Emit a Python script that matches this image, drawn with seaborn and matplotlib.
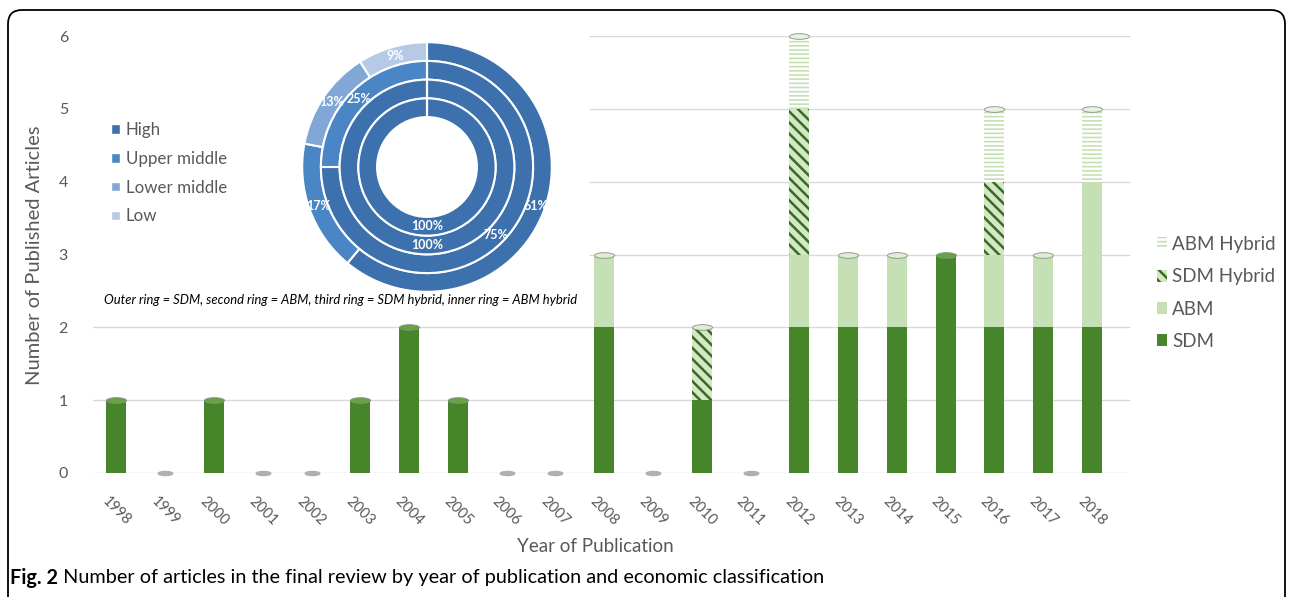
import numpy as np
import pandas as pd
import matplotlib
matplotlib.use("Agg")
import matplotlib.pyplot as plt
import seaborn as sns
from matplotlib.patches import Patch, FancyBboxPatch
from matplotlib.path import Path

# ─── data ─────────────────────────────────────────────────────────────────────
years = ["1998", "1999", "2000", "2001", "2002", "2003", "2004", "2005", "2006", "2007",
         "2008", "2009", "2010", "2011", "2012", "2013", "2014", "2015", "2016", "2017", "2018"]
sdm        = [1, 0, 1, 0, 0, 1, 2, 1, 0, 0, 2, 0, 1, 0, 2, 2, 2, 3, 2, 2, 2]
abm        = [0, 0, 0, 0, 0, 0, 0, 0, 0, 0, 1, 0, 0, 0, 1, 1, 1, 0, 1, 1, 2]
sdm_hybrid = [0, 0, 0, 0, 0, 0, 0, 0, 0, 0, 0, 0, 1, 0, 2, 0, 0, 0, 1, 0, 0]
abm_hybrid = [0, 0, 0, 0, 0, 0, 0, 0, 0, 0, 0, 0, 0, 0, 1, 0, 0, 0, 1, 0, 1]

income_groups = ["High", "Upper middle", "Lower middle", "Low"]
ring_sdm        = [61, 17, 13, 9]     # outer ring
ring_abm        = [75, 25, 0, 0]      # second ring
ring_sdm_hybrid = [100, 0, 0, 0]      # third ring
ring_abm_hybrid = [100, 0, 0, 0]      # inner ring

# ─── style ────────────────────────────────────────────────────────────────────
sns.set_style("white")
plt.rcParams["font.family"] = ["Lato", "DejaVu Sans"]
plt.rcParams["hatch.linewidth"] = 1.8

GREY = "#595959"
SERIES_STYLE = {
    "SDM":        dict(color="#46852a", hatch=None, edgecolor="#46852a"),
    "ABM":        dict(color="#c5e0b4", hatch=None, edgecolor="#c5e0b4"),
    "SDM Hybrid": dict(color="#d3e8c6", hatch="\\\\\\", edgecolor="#3a6a20"),
    "ABM Hybrid": dict(color="#c5e0b4", hatch="----", edgecolor="white"),
}
CAP_COLOR = {"SDM": "#65a43f", "ABM": "#dcefd0", "SDM Hybrid": "#dcefd0", "ABM Hybrid": "#e6f3de"}
RING_COLORS = ["#3d71ad", "#4a86c6", "#80a7d6", "#b6cae6"]

W, H = 1290, 597
fig = plt.figure(figsize=(W / 100, H / 100), dpi=100)
fig.patch.set_facecolor("white")

# ─── main stacked bar chart ───────────────────────────────────────────────────
ax = fig.add_axes([93 / W, 1 - 473 / H, (1130 - 93) / W, (473 - 36) / H])

df = pd.DataFrame({"year": years, "SDM": sdm, "ABM": abm,
                   "SDM Hybrid": sdm_hybrid, "ABM Hybrid": abm_hybrid})
stack_order = ["SDM", "ABM", "SDM Hybrid", "ABM Hybrid"]
tops = df[stack_order].cumsum(axis=1)

# draw back to front: tallest cumulative layer first
for name in reversed(stack_order):
    st = SERIES_STYLE[name]
    sns.barplot(x=df["year"], y=tops[name], ax=ax, color=st["color"], saturation=1,
                width=0.41, hatch=st["hatch"], edgecolor=st["edgecolor"], linewidth=0,
                errorbar=None, zorder=2)

# cylinder caps on top of each stack, flat discs for empty years
theta = np.linspace(0, 2 * np.pi, 60)
ellipse = Path(np.column_stack([np.cos(theta), 0.28 * np.sin(theta)]), closed=True)
total = tops["ABM Hybrid"]
top_series = df[stack_order].apply(lambda r: [c for c in stack_order if r[c] > 0][-1]
                                   if r.sum() > 0 else None, axis=1)
for i, (t, s) in enumerate(zip(total, top_series)):
    if s is None:
        ax.scatter(i, 0, marker=ellipse, s=110, color="#b0b0b0", zorder=3, clip_on=False)
    else:
        ax.scatter(i, t, marker=ellipse, s=210, color=CAP_COLOR[s], edgecolor="#8c8c8c",
                   linewidth=0.6, zorder=3, clip_on=False)

ax.set_xlim(-0.48, 20.78)
ax.set_ylim(0, 6)
ax.set_yticks(range(0, 7))
ax.yaxis.grid(True, color="#d9d9d9", linewidth=1)
ax.set_axisbelow(True)
sns.despine(ax=ax, left=True, bottom=True)
ax.set_xlabel("")
ax.set_ylabel("")
ax.tick_params(axis="y", length=0, pad=18, labelsize=11.5, labelcolor=GREY)
ax.tick_params(axis="x", length=0, pad=15, labelsize=10.5, labelcolor=GREY)
for lbl in ax.get_xticklabels():
    lbl.set_rotation(-45)
    lbl.set_ha("center")
    lbl.set_va("top")

fig.text(35 / W, 1 - 255 / H, "Number of Published Articles", rotation=90,
         ha="center", va="center", fontsize=14.5, color=GREY)
fig.text(595 / W, 1 - 547 / H, "Year of Publication", ha="center", va="center",
         fontsize=13.5, color=GREY)

legend_handles = [Patch(facecolor=SERIES_STYLE[n]["color"], hatch=SERIES_STYLE[n]["hatch"],
                        edgecolor=SERIES_STYLE[n]["edgecolor"], linewidth=0, label=n)
                  for n in reversed(stack_order)]
fig.legend(handles=legend_handles, loc="upper left", bbox_to_anchor=(1140 / W, 1 - 219 / H),
           frameon=False, fontsize=13.5, labelcolor=GREY, handlelength=0.55,
           handleheight=0.6, handletextpad=0.25, labelspacing=0.82)

# ─── inset donut (economic classification) ───────────────────────────────────
ax_bg = fig.add_axes([93 / W, 1 - 318 / H, (590 - 93) / W, (318 - 20) / H])
ax_bg.set_facecolor("white")
ax_bg.set_xticks([])
ax_bg.set_yticks([])
for sp in ax_bg.spines.values():
    sp.set_visible(False)
ax_bg.set_zorder(2)

inc_handles = [Patch(facecolor=c, label=g) for g, c in zip(income_groups, RING_COLORS)]
ax_bg.legend(handles=inc_handles, loc="upper left", bbox_to_anchor=(96 / W, 1 - 107 / H),
             bbox_transform=fig.transFigure, frameon=False, fontsize=12.2, labelcolor=GREY,
             handlelength=0.5, handleheight=0.5, handletextpad=0.35, labelspacing=0.75)
fig.text(104 / W, 1 - 300 / H,
         "Outer ring = SDM, second ring = ABM, third ring = SDM hybrid, inner ring = ABM hybrid",
         style="italic", fontsize=9.4, color="black", va="center", zorder=5)

cx, cy, box = 427, 167, 130
ax_pie = fig.add_axes([(cx - box) / W, (H - cy - box) / H, 2 * box / W, 2 * box / H])
ax_pie.set_zorder(3)
ring_w = 0.144
radii = [0.96, 0.96 - ring_w, 0.96 - 2 * ring_w, 0.96 - 3 * ring_w]
for vals, r in zip([ring_sdm, ring_abm, ring_sdm_hybrid, ring_abm_hybrid], radii):
    ax_pie.pie(vals, radius=r, colors=RING_COLORS, startangle=90, counterclock=False,
               wedgeprops=dict(width=ring_w, edgecolor="white", linewidth=1.5),
               autopct=lambda p: f"{p:.0f}%" if p > 0 else "",
               pctdistance=(r - ring_w / 2) / r,
               textprops=dict(color="white", fontsize=9, fontweight="bold"))
ax_pie.set_xlim(-1, 1)
ax_pie.set_ylim(-1, 1)
ax_pie.set_aspect("equal")

# ─── caption and frame ───────────────────────────────────────────────────────
cap = fig.text(10 / W, 1 - 578 / H, "Fig. 2", fontweight="bold", fontsize=14.3,
               va="center", color="black")
plt.annotate(" Number of articles in the final review by year of publication and economic classification",
             xy=(1, 0.5), xycoords=cap, va="center", ha="left", fontsize=14.3, color="black")

fig.patches.append(FancyBboxPatch((8, -30), 1277, 617, boxstyle="round,pad=0,rounding_size=14",
                                  transform=None, facecolor="none", edgecolor="black",
                                  linewidth=1.3, figure=fig))

fig.savefig("out.png", dpi=100, facecolor="white")
